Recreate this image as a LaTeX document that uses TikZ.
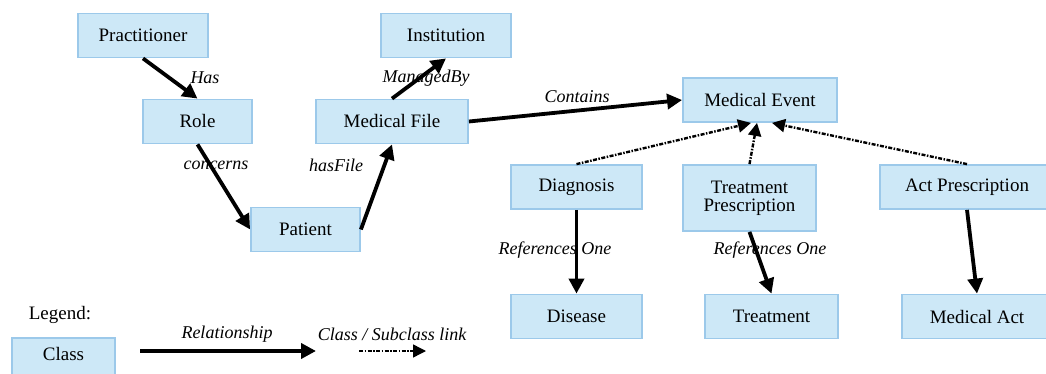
\documentclass[tikz,border=0pt]{standalone}
\usepackage{fontspec}
\newfontfamily\diagfont{Liberation Serif}
\usetikzlibrary{arrows.meta,calc}
\definecolor{boxfill}{HTML}{CDE8F7}
\definecolor{boxline}{HTML}{9CC9EA}
\begin{document}
\begin{tikzpicture}[x=1pt,y=-1pt,
  cls/.style={draw=boxline,fill=boxfill,line width=1.8pt,minimum height=44pt,inner sep=2pt,align=center,font=\diagfont\fontsize{19}{19}\selectfont},
  rel/.style={line width=3.8pt,-{Triangle[length=15pt,width=15pt]}},
  sub/.style={line width=2.4pt,dash pattern=on 4pt off 1.5pt on 1.5pt off 1.5pt,-{Triangle[length=13pt,width=13pt]}},
  lab/.style={font=\diagfont\fontsize{18}{18}\selectfont\itshape,inner sep=0pt},
  txt/.style={font=\diagfont\fontsize{19}{19}\selectfont,inner sep=0pt}]
\useasboundingbox (0,0) rectangle (1046,374);
\clip (0,0) rectangle (1046,374);
% nodes
\node[cls,minimum width=130pt] (prac) at (143,35.5) {Practitioner};
\node[cls,minimum width=130pt] (inst) at (446,35.5) {Institution};
\node[cls,minimum width=109pt] (role) at (197.5,121.5) {Role};
\node[cls,minimum width=152pt] (mfile) at (392,121.5) {Medical File};
\node[cls,minimum width=109pt] (pat) at (305.5,229.5) {Patient};
\node[cls,minimum width=154pt] (mevent) at (760,100) {Medical Event};
\node[cls,minimum width=131pt] (diag) at (576.5,187) {Diagnosis};
\node[cls,minimum width=133pt,minimum height=66pt] (tpres) at (749.5,198) {Treatment\\[-1pt]Prescription};
\node[cls,minimum width=174pt] (apres) at (967,187) {Act Prescription};
\node[cls,minimum width=131pt] (dis) at (576.5,316.5) {Disease};
\node[cls,minimum width=133pt] (treat) at (771.5,316.5) {Treatment};
\node[cls,minimum width=150pt] (mact) at (977,316.5) {Medical Act};
% relationships
\draw[rel] (prac.south) -- (role.north);
\draw[rel] (role.south) -- (pat.west);
\draw[rel] (pat.east) -- (mfile.south);
\draw[rel] (mfile.north) -- (inst.south);
\draw[rel] (mfile.east) -- (mevent.west);
\draw[rel] (diag.south) -- (dis.north);
\draw[rel] (tpres.south) -- (treat.north);
\draw[rel] (apres.south) -- (mact.north);
% subclass links
\draw[sub] (diag.north) -- ($(mevent.south)+(-9,0)$);
\draw[sub] (tpres.north) -- ($(mevent.south)+(-3,0)$);
\draw[sub] (apres.north) -- ($(mevent.south)+(12,0)$);
% labels
\node[lab] (lhas) at (205,78) {Has};
\node[lab] (lcon) at (216,165) {concerns};
\node[lab] (lhf) at (336,165) {hasFile};
\node[lab] (lmb) at (426,78) {ManagedBy};
\node[lab] (lcont) at (577,97) {Contains};
\node[lab] (lr1) at (555,250) {References One};
\node[lab] (lr2) at (770,250) {References One};
% legend
\node[txt] (leg) at (60,315) {Legend:};
\node[cls,minimum width=103pt,minimum height=46pt] (clsbox) at (63.5,361) {};
\node[txt] (clstxt) at (63.5,354) {Class};
\node[lab] (lrel) at (227,334) {Relationship};
\node[lab] (lsub) at (392,334) {Class / Subclass link};
\coordinate (r1) at (140,351);
\coordinate (r2) at (316,351);
\coordinate (s1) at (359,351);
\coordinate (s2) at (426,351);
\draw[rel] (r1) -- (r2);
\draw[sub,line width=1.4pt] (s1) -- (s2);
\end{tikzpicture}
\end{document}
